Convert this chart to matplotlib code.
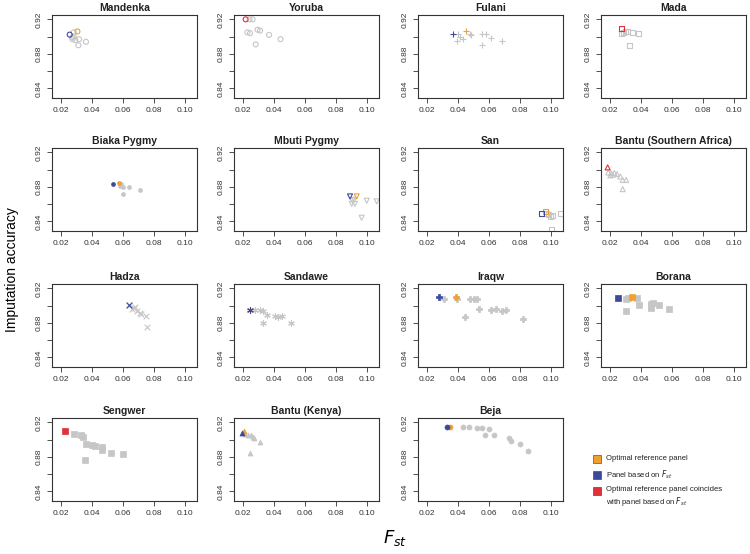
import matplotlib
matplotlib.use("Agg")
import matplotlib.pyplot as plt
import numpy as np

plt.rcParams['font.family'] = ['Liberation Sans', 'DejaVu Sans']

# Panel names in reading order
populations = ["Mandenka", "Yoruba", "Fulani", "Mada",
               "Biaka Pygmy", "Mbuti Pygmy", "San", "Bantu (Southern Africa)",
               "Hadza", "Sandawe", "Iraqw", "Borana",
               "Sengwer", "Bantu (Kenya)", "Beja"]

# Grey points (all candidate panels): Fst, accuracy
grey_fst = {
    "Mandenka": [0.028, 0.0272, 0.029, 0.0315, 0.031, 0.0359, 0.028, 0.027],
    "Yoruba": [0.024, 0.026, 0.0226, 0.0243, 0.0292, 0.0308, 0.028, 0.0366, 0.044],
    "Fulani": [0.040, 0.0473, 0.0411, 0.0389, 0.0429, 0.0551, 0.0578, 0.0551, 0.0611, 0.0684, 0.048],
    "Mada": [0.0272, 0.0296, 0.0313, 0.034, 0.0385, 0.0322, 0.0287],
    "Biaka Pygmy": [0.0587, 0.0598, 0.0637, 0.0705, 0.0598, 0.058],
    "Mbuti Pygmy": [0.0903, 0.0899, 0.092, 0.0914, 0.0996, 0.106, 0.0963],
    "San": [0.0983, 0.0993, 0.101, 0.1059, 0.1004, 0.097],
    "Bantu (Southern Africa)": [0.0187, 0.0204, 0.0215, 0.0226, 0.0243, 0.0265, 0.028, 0.0302, 0.028, 0.020],
    "Hadza": [0.0657, 0.0678, 0.0685, 0.0707, 0.0717, 0.0748, 0.0754, 0.0667],
    "Sandawe": [0.0275, 0.0308, 0.0325, 0.0355, 0.0404, 0.0421, 0.0452, 0.0329, 0.0508],
    "Iraqw": [0.0307, 0.0389, 0.0478, 0.050, 0.0518, 0.0531, 0.0442, 0.0611, 0.0644, 0.0684, 0.0707, 0.0816],
    "Borana": [0.0298, 0.0313, 0.0374, 0.0387, 0.0302, 0.0461, 0.0474, 0.0461, 0.0515, 0.0578, 0.0465],
    "Sengwer": [0.028, 0.033, 0.034, 0.036, 0.040, 0.042, 0.046, 0.046, 0.052, 0.060, 0.035],
    "Bantu (Kenya)": [0.021, 0.023, 0.025, 0.026, 0.027, 0.031, 0.024],
    "Beja": [0.043, 0.047, 0.052, 0.055, 0.060, 0.057, 0.063, 0.073, 0.074, 0.080, 0.085],
}
grey_acc = {
    "Mandenka": [0.905, 0.897, 0.896, 0.897, 0.890, 0.894, 0.900, 0.899],
    "Yoruba": [0.920, 0.920, 0.905, 0.904, 0.908, 0.907, 0.891, 0.902, 0.897],
    "Fulani": [0.9035, 0.9035, 0.899, 0.895, 0.897, 0.9035, 0.9035, 0.890, 0.898, 0.895, 0.902],
    "Mada": [0.9035, 0.9063, 0.9055, 0.9043, 0.9035, 0.8894, 0.905],
    "Biaka Pygmy": [0.8828, 0.8795, 0.8795, 0.8764, 0.8713, 0.881],
    "Mbuti Pygmy": [0.8643, 0.8604, 0.8604, 0.865, 0.864, 0.8633, 0.8443],
    "San": [0.848, 0.846, 0.847, 0.849, 0.8306, 0.849],
    "Bantu (Southern Africa)": [0.8967, 0.896, 0.894, 0.896, 0.8948, 0.892, 0.888, 0.888, 0.8774, 0.8933],
    "Hadza": [0.8958, 0.8988, 0.8942, 0.8919, 0.8904, 0.8885, 0.8758, 0.897],
    "Sandawe": [0.895, 0.895, 0.8942, 0.8892, 0.888, 0.8873, 0.888, 0.8796, 0.8796],
    "Iraqw": [0.9074, 0.9078, 0.9078, 0.9078, 0.9074, 0.896, 0.8865, 0.8952, 0.896, 0.8933, 0.8944, 0.885],
    "Borana": [0.9082, 0.909, 0.9093, 0.9006, 0.894, 0.9021, 0.9036, 0.8975, 0.9006, 0.896, 0.8998],
    "Sengwer": [0.907, 0.905, 0.903, 0.895, 0.894, 0.893, 0.891, 0.888, 0.885, 0.883, 0.877],
    "Bantu (Kenya)": [0.906, 0.905, 0.905, 0.903, 0.902, 0.897, 0.885],
    "Beja": [0.915, 0.915, 0.914, 0.913, 0.912, 0.905, 0.905, 0.902, 0.898, 0.895, 0.887],
}

# Optimal reference panel (orange), panel based on Fst (blue), coincide (red)
optimal = {
    "Mandenka": (0.0304, 0.906), "Fulani": (0.0451, 0.9067), "Biaka Pygmy": (0.057, 0.884),
    "Mbuti Pygmy": (0.0931, 0.869), "San": (0.0963, 0.852), "Hadza": (0.0637, 0.9012),
    "Sandawe": (0.0243, 0.8955), "Iraqw": (0.0384, 0.9105), "Borana": (0.0339, 0.910),
    "Bantu (Kenya)": (0.0205, 0.9095), "Beja": (0.0345, 0.915),
}
fst_based = {
    "Mandenka": (0.0254, 0.9023), "Fulani": (0.0367, 0.9035), "Biaka Pygmy": (0.0533, 0.8829),
    "Mbuti Pygmy": (0.0888, 0.869), "San": (0.0939, 0.849), "Hadza": (0.0637, 0.9012),
    "Sandawe": (0.0243, 0.8948), "Iraqw": (0.0273, 0.9105), "Borana": (0.0248, 0.909),
    "Bantu (Kenya)": (0.019, 0.9075), "Beja": (0.0328, 0.915),
}
coincide = {
    "Yoruba": (0.0215, 0.920), "Mada": (0.0272, 0.9094),
    "Bantu (Southern Africa)": (0.0183, 0.9026), "Sengwer": (0.0225, 0.9105),
}

# marker style per panel (R pch look-alikes)
markers = {
    "Mandenka": ("o", False), "Yoruba": ("o", False), "Fulani": ("+", False), "Mada": ("s", False),
    "Biaka Pygmy": ("o", True), "Mbuti Pygmy": ("v", False), "San": ("s", False),
    "Bantu (Southern Africa)": ("^", False), "Hadza": ("x", False), "Sandawe": ((6, 2, 0), False),
    "Iraqw": ("P", True), "Borana": ("s", True), "Sengwer": ("s", True),
    "Bantu (Kenya)": ("^", True), "Beja": ("o", True),
}

GREY = "#c6c6c6"
ORANGE = "#f0a030"
BLUE = "#3b4a9c"
RED = "#e0303a"

W, H = 750, 554
fig = plt.figure(figsize=(7.5, 5.54), dpi=100)

col_left = [52, 234, 418, 601]
row_top = [15, 148, 284, 418]
pw, ph = 145, 83


def draw(ax, x, y, marker, filled, color, size, z):
    if filled:
        ax.scatter(x, y, marker=marker, s=size, facecolor=color, edgecolor=color,
                   linewidths=0.5, zorder=z)
    elif marker in ("+", "x") or isinstance(marker, tuple):
        ax.scatter(x, y, marker=marker, s=size * 1.3, color=color, linewidths=0.8, zorder=z)
    else:
        ax.scatter(x, y, marker=marker, s=size, facecolor="none", edgecolor=color,
                   linewidths=0.8, zorder=z)


for i, pop in enumerate(populations):
    r, c = divmod(i, 4)
    left = col_left[c] / W
    bottom = 1 - (row_top[r] + ph) / H
    ax = fig.add_axes([left, bottom, pw / W, ph / H])
    marker, filled = markers[pop]
    size = 8 if pop == "Biaka Pygmy" else 13
    draw(ax, grey_fst[pop], grey_acc[pop], marker, filled, GREY, size, 2)
    if pop in optimal:
        draw(ax, [optimal[pop][0]], [optimal[pop][1]], marker, filled, ORANGE, size, 3)
    if pop in fst_based:
        draw(ax, [fst_based[pop][0]], [fst_based[pop][1]], marker, filled, BLUE, size, 4)
    if pop in coincide:
        draw(ax, [coincide[pop][0]], [coincide[pop][1]], marker, filled, RED, size, 4)

    ax.set_xlim(0.014, 0.1075)
    ax.set_ylim(0.829, 0.925)
    ax.set_xticks([0.02, 0.04, 0.06, 0.08, 0.10])
    ax.set_xticklabels(["0.02", "0.04", "0.06", "0.08", "0.10"])
    ax.set_yticks([0.84, 0.86, 0.88, 0.90, 0.92])
    ax.set_yticklabels(["0.84", "", "0.88", "", "0.92"], rotation=90, va="center")
    ax.tick_params(labelsize=6, length=3.5, width=0.6, pad=3, colors="#333333")
    for s in ax.spines.values():
        s.set_linewidth(0.8)
        s.set_color("#333333")
    ax.set_title(pop, fontsize=7.5, fontweight="bold", pad=3, color="#222222")

# legend in the empty 16th slot
leg_items = [(ORANGE, "Optimal reference panel"),
             (BLUE, "Panel based on $F_{st}$"),
             (RED, "Optimal reference panel coincides\nwith panel based on $F_{st}$")]
ys = [459, 475, 491]
for (col, txt), yy in zip(leg_items, ys):
    fig.patches.append(plt.Rectangle(((593) / W, 1 - (yy + 4) / H), 8 / W, 8 / H,
                                     transform=fig.transFigure, facecolor=col,
                                     edgecolor="#333333", linewidth=0.4))
    fig.text(606 / W, 1 - (yy - 5 if "\n" in txt else yy) / H, txt, fontsize=5.5,
             va="top" if "\n" in txt else "center",
             ha="left", color="#222222", linespacing=1.2)

fig.text(395 / W, 1 - 538 / H, "$F_{st}$", fontsize=13, ha="center", va="center")
fig.text(12 / W, 1 - 270 / H, "Imputation accuracy", fontsize=10, rotation=90,
         ha="center", va="center")

fig.savefig("out.png", dpi=100)
